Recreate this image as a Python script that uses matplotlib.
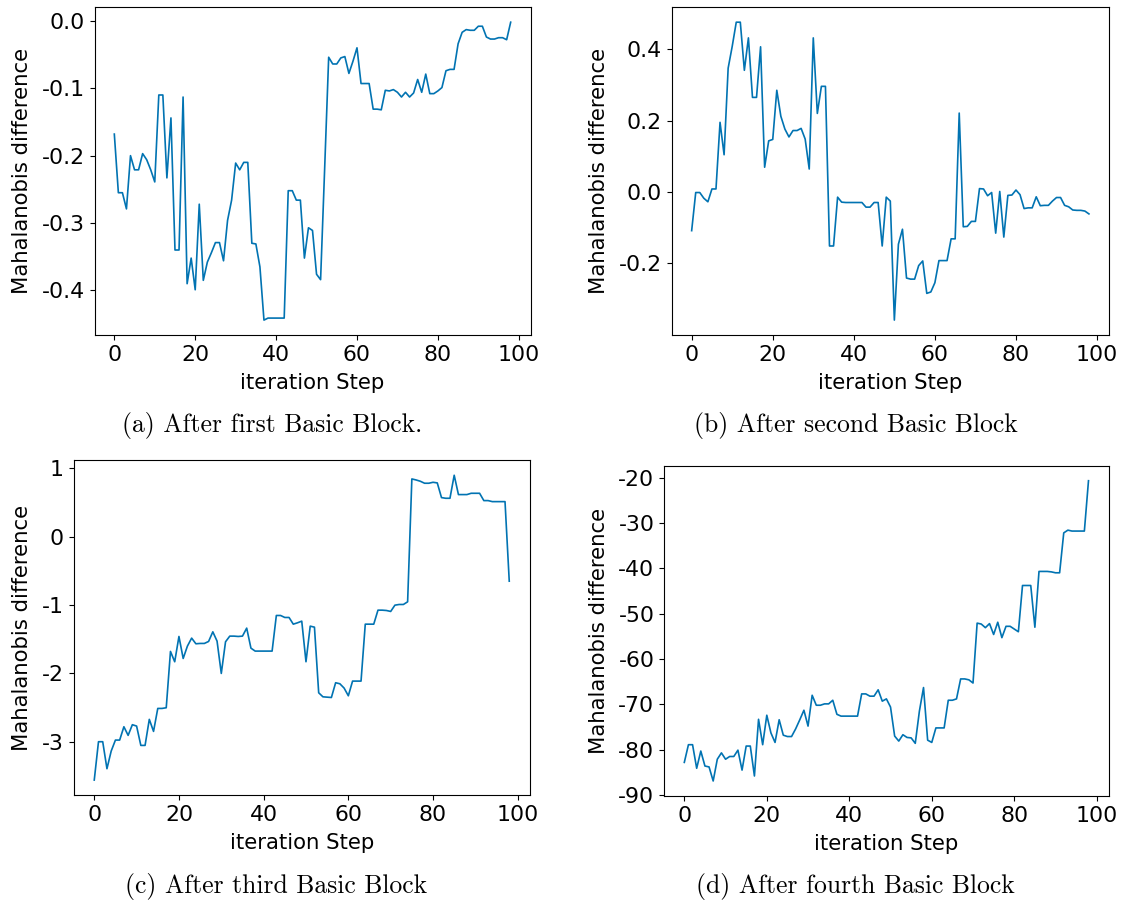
import matplotlib
matplotlib.use("Agg")
import matplotlib.pyplot as plt

plt.rcParams['font.family'] = ['DejaVu Sans']
plt.rcParams['axes.unicode_minus'] = False

steps = list(range(99))

diff_block1 = [
    -0.168, -0.255, -0.255, -0.279, -0.200, -0.221, -0.221, -0.197, -0.206, -0.221,
    -0.239, -0.110, -0.110, -0.233, -0.144, -0.340, -0.340, -0.113, -0.390, -0.352,
    -0.399, -0.272, -0.385, -0.358, -0.344, -0.329, -0.329, -0.356, -0.296, -0.266,
    -0.211, -0.221, -0.210, -0.210, -0.330, -0.331, -0.365, -0.444, -0.441, -0.441,
    -0.441, -0.441, -0.441, -0.252, -0.252, -0.266, -0.266, -0.352, -0.307, -0.311,
    -0.376, -0.384, -0.220, -0.054, -0.064, -0.064, -0.055, -0.053, -0.078, -0.060,
    -0.040, -0.093, -0.093, -0.093, -0.131, -0.131, -0.132, -0.103, -0.104, -0.102,
    -0.106, -0.113, -0.106, -0.113, -0.107, -0.087, -0.106, -0.079, -0.108, -0.108,
    -0.104, -0.099, -0.074, -0.072, -0.072, -0.034, -0.017, -0.013, -0.014, -0.014,
    -0.008, -0.008, -0.024, -0.027, -0.027, -0.025, -0.025, -0.028, -0.002,
]

diff_block2 = [
    -0.109, -0.002, -0.002, -0.018, -0.028, 0.008, 0.008, 0.195, 0.104, 0.347,
    0.408, 0.476, 0.476, 0.341, 0.432, 0.265, 0.265, 0.407, 0.069, 0.143,
    0.147, 0.285, 0.212, 0.176, 0.154, 0.172, 0.172, 0.178, 0.148, 0.064,
    0.432, 0.220, 0.296, 0.296, -0.152, -0.152, -0.015, -0.029, -0.030, -0.030,
    -0.030, -0.030, -0.030, -0.043, -0.043, -0.030, -0.030, -0.152, -0.015, -0.026,
    -0.360, -0.147, -0.105, -0.242, -0.245, -0.245, -0.207, -0.194, -0.285, -0.281,
    -0.255, -0.193, -0.193, -0.193, -0.132, -0.132, 0.221, -0.098, -0.097, -0.083,
    -0.083, 0.009, 0.008, -0.011, -0.002, -0.116, 0.001, -0.127, -0.010, -0.009,
    0.005, -0.008, -0.047, -0.045, -0.045, -0.014, -0.039, -0.038, -0.038, -0.026,
    -0.016, -0.016, -0.038, -0.042, -0.051, -0.052, -0.052, -0.054, -0.062,
]

diff_block3 = [
    -3.563, -3.002, -3.002, -3.397, -3.139, -2.978, -2.978, -2.783, -2.909, -2.753,
    -2.773, -3.056, -3.056, -2.675, -2.851, -2.515, -2.515, -2.505, -1.681, -1.832,
    -1.462, -1.784, -1.603, -1.486, -1.569, -1.564, -1.564, -1.535, -1.394, -1.530,
    -2.003, -1.540, -1.457, -1.457, -1.462, -1.457, -1.340, -1.633, -1.676, -1.676,
    -1.676, -1.676, -1.676, -1.155, -1.155, -1.184, -1.184, -1.282, -1.262, -1.238,
    -1.832, -1.311, -1.326, -2.286, -2.345, -2.350, -2.355, -2.139, -2.154, -2.217,
    -2.330, -2.115, -2.115, -2.115, -1.282, -1.282, -1.282, -1.077, -1.077, -1.082,
    -1.096, -1.004, -0.994, -0.994, -0.955, 0.843, 0.828, 0.809, 0.780, 0.780,
    0.794, 0.785, 0.570, 0.560, 0.560, 0.897, 0.614, 0.614, 0.614, 0.633,
    0.633, 0.633, 0.526, 0.526, 0.511, 0.511, 0.511, 0.511, -0.653,
]

diff_block4 = [
    -82.8, -78.9, -78.9, -84.1, -80.3, -83.6, -83.8, -86.9, -82.1, -80.7,
    -82.1, -81.5, -81.5, -80.1, -84.5, -79.2, -79.2, -85.8, -73.3, -78.9,
    -72.4, -76.3, -78.4, -73.4, -76.8, -77.1, -77.1, -75.4, -73.4, -71.3,
    -74.8, -68.0, -70.2, -70.2, -69.9, -69.9, -69.1, -72.2, -72.6, -72.6,
    -72.6, -72.6, -72.6, -67.7, -67.7, -68.2, -68.2, -66.8, -69.3, -68.8,
    -70.6, -77.0, -78.1, -76.7, -77.3, -77.4, -78.6, -71.5, -66.3, -77.9,
    -78.4, -75.2, -75.2, -75.2, -69.1, -69.1, -68.8, -64.4, -64.4, -64.6,
    -65.3, -52.1, -52.3, -53.1, -52.2, -54.6, -51.9, -55.3, -52.8, -52.8,
    -53.4, -54.0, -43.8, -43.8, -43.8, -53.0, -40.7, -40.7, -40.7, -40.8,
    -41.0, -41.0, -32.2, -31.6, -31.8, -31.8, -31.8, -31.8, -20.7,
]

captions = [
    "(a) After first Basic Block.",
    "(b) After second Basic Block",
    "(c) After third Basic Block",
    "(d) After fourth Basic Block",
]

W, H = 1132, 906
fig = plt.figure(figsize=(W / 100, H / 100), dpi=100)

# panel boxes in pixels: left, right, top, bottom
boxes = [
    (94.5, 530.5, 7.3, 335),
    (671.8, 1108.8, 7.3, 335),
    (73.5, 530, 460, 795.3),
    (664.1, 1108.7, 465.7, 796),
]
caption_pos = [(272, 426), (856, 426), (276, 887), (855, 887)]
series = [diff_block1, diff_block2, diff_block3, diff_block4]

for box, data, cap, cpos in zip(boxes, series, captions, caption_pos):
    l, r, t, b = box
    ax = fig.add_axes([l / W, 1 - b / H, (r - l) / W, (b - t) / H])
    ax.plot(steps, data, color='#0173b2', linewidth=1.2)
    ax.set_xticks([0, 20, 40, 60, 80, 100])
    ax.set_xlabel("iteration Step", fontsize=15.3, labelpad=6)
    ax.set_ylabel("Mahalanobis difference", fontsize=15.3, labelpad=7)
    ax.tick_params(labelsize=15.8)
    fig.text(cpos[0] / W, 1 - cpos[1] / H, cap, family='cmr10',
             fontsize=18.5, ha='center', va='center')

# tick spacing per panel
fig.axes[1].set_yticks([-0.2, 0.0, 0.2, 0.4])
fig.axes[2].set_yticks([-3, -2, -1, 0, 1])
fig.axes[3].set_yticks([-90, -80, -70, -60, -50, -40, -30, -20])

fig.savefig("out.png", dpi=100)
